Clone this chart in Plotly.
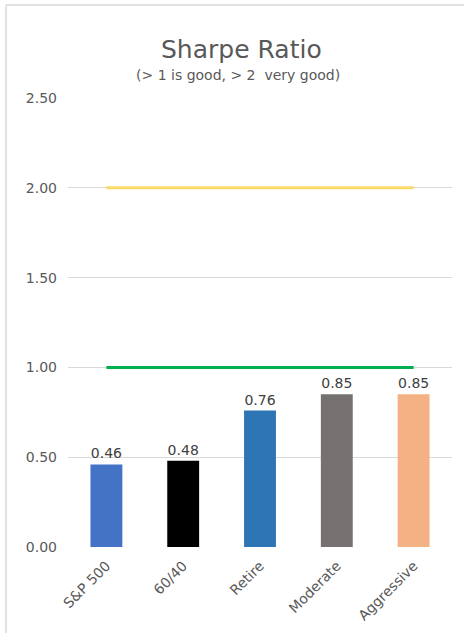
import plotly.graph_objects as go

categories = ["S&P 500", "60/40", "Retire", "Moderate", "Aggressive"]
sharpe = [0.46, 0.48, 0.76, 0.85, 0.85]
bar_colors = ["#4472C4", "#000000", "#2E75B6", "#767171", "#F4B183"]
good_level = [1.0, 1.0, 1.0, 1.0, 1.0]
very_good_level = [2.0, 2.0, 2.0, 2.0, 2.0]
y_ticks = [0.0, 0.5, 1.0, 1.5, 2.0, 2.5]

FONT = "DejaVu Sans"
W, H = 464, 633
L, R, T, B = 68, 12, 98, 86
pw, ph = W - L - R, H - T - B

def px_x(x):
    return (x - L) / pw

def px_y(y):
    return (H - B - y) / ph

fig = go.Figure()
fig.add_trace(go.Bar(
    x=categories, y=sharpe, marker=dict(color=bar_colors, line=dict(width=0)),
    width=0.415, text=[f"{v:.2f}" for v in sharpe], textposition="outside",
    textfont=dict(family=FONT, size=14, color="#404040"), cliponaxis=False,
    showlegend=False, hoverinfo="skip",
))
fig.add_trace(go.Scatter(
    x=categories, y=good_level, mode="lines",
    line=dict(color="#00B050", width=3), showlegend=False, hoverinfo="skip",
))
fig.add_trace(go.Scatter(
    x=categories, y=very_good_level, mode="lines",
    line=dict(color="#FFD966", width=3), showlegend=False, hoverinfo="skip",
))

fig.update_layout(
    width=W, height=H, margin=dict(l=L, r=R, t=T, b=B, autoexpand=False),
    paper_bgcolor="white", plot_bgcolor="white",
    font=dict(family=FONT, color="#595959"),
    bargap=0.585,
    xaxis=dict(tickangle=-45, tickfont=dict(size=14, color="#595959"),
               showgrid=False, showline=False, ticks="", zeroline=False,
               ticklabelstandoff=7, automargin=False),
    yaxis=dict(range=[0, 2.5], tickvals=y_ticks, tickformat=".2f",
               tickfont=dict(size=14, color="#595959"),
               gridcolor="#D9D9D9", gridwidth=1, zeroline=False,
               showline=False, ticks="", ticklen=0, ticklabelstandoff=10,
               automargin=False),
    annotations=[
        dict(text="Sharpe Ratio", xref="paper", yref="paper",
             x=px_x(241), y=px_y(50), showarrow=False,
             xanchor="center", yanchor="middle",
             font=dict(family=FONT, size=25, color="#595959")),
        dict(text="(> 1 is good, > 2  very good)", xref="paper", yref="paper",
             x=px_x(238), y=px_y(75), showarrow=False,
             xanchor="center", yanchor="middle",
             font=dict(family=FONT, size=14, color="#595959")),
    ],
    shapes=[
        dict(type="line", xref="paper", yref="paper",
             x0=px_x(6), x1=px_x(6), y0=px_y(5), y1=px_y(640),
             line=dict(color="#D9D9D9", width=1.5)),
        dict(type="line", xref="paper", yref="paper",
             x0=px_x(6), x1=px_x(470), y0=px_y(5), y1=px_y(5),
             line=dict(color="#D9D9D9", width=1.5)),
    ],
)

fig.write_html("out.html", config={"displayModeBar": False},
               post_script="document.body.style.margin='0px';")
